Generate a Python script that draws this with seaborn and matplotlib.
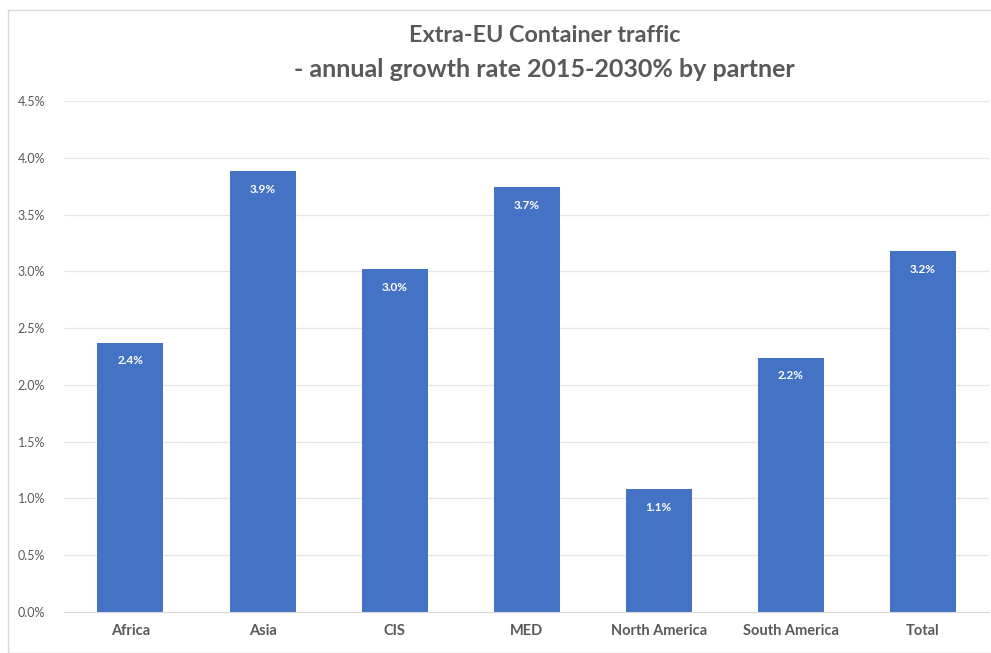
import matplotlib.pyplot as plt
import seaborn as sns
import pandas as pd
from matplotlib.ticker import FuncFormatter
from matplotlib.patches import Rectangle

# Data (growth rate in %)
partners = ['Africa', 'Asia', 'CIS', 'MED', 'North America', 'South America', 'Total']
growthRate = [2.37, 3.88, 3.02, 3.74, 1.08, 2.24, 3.18]
barLabels = ['2.4%', '3.9%', '3.0%', '3.7%', '1.1%', '2.2%', '3.2%']

df = pd.DataFrame({'Partner': partners, 'Growth': growthRate})

sns.set_style('white')
plt.rcParams['font.family'] = ['Lato', 'DejaVu Sans']

textGrey = '#595959'
barBlue = '#4472C4'

fig = plt.figure(figsize=(9.91, 6.53), dpi=100)
ax = fig.add_axes([0.065, 0.0628, 0.933, 0.7825])

sns.barplot(ax=ax, data=df, x='Partner', y='Growth', color=barBlue,
            width=0.5, saturation=1, edgecolor='none')

ax.bar_label(ax.containers[0], labels=barLabels, padding=-17,
             color='white', fontsize=8.5, fontweight='bold')

ax.set_ylim(0, 4.5)
ax.set_yticks([i * 0.5 for i in range(10)])
ax.yaxis.set_major_formatter(FuncFormatter(lambda v, p: '%.1f%%' % v))
ax.set_xlim(-0.5, 6.5)

ax.grid(axis='y', color='#e6e6e6', linewidth=0.9)
ax.set_axisbelow(True)
for s in ['top', 'right', 'left']:
  ax.spines[s].set_visible(False)
ax.spines['bottom'].set_color('#d9d9d9')

ax.tick_params(axis='y', colors=textGrey, labelsize=9, length=0, pad=14)
ax.tick_params(axis='x', colors=textGrey, labelsize=10.5, length=0, pad=9)
for lab in ax.get_xticklabels():
  lab.set_fontweight('bold')
ax.set_xlabel('')
ax.set_ylabel('')

fig.text(0.55, 0.946, 'Extra-EU Container traffic', ha='center', va='center',
         fontsize=16.8, fontweight='bold', color=textGrey)
fig.text(0.549, 0.893, '- annual growth rate 2015-2030% by partner', ha='center', va='center',
         fontsize=18, fontweight='bold', color=textGrey)

# faint chart border
fig.patches.append(Rectangle((0.008, 0.0), 0.995, 0.985, transform=fig.transFigure,
                             fill=False, edgecolor='#d9d9d9', linewidth=1))

fig.savefig('out.png', dpi=100)
